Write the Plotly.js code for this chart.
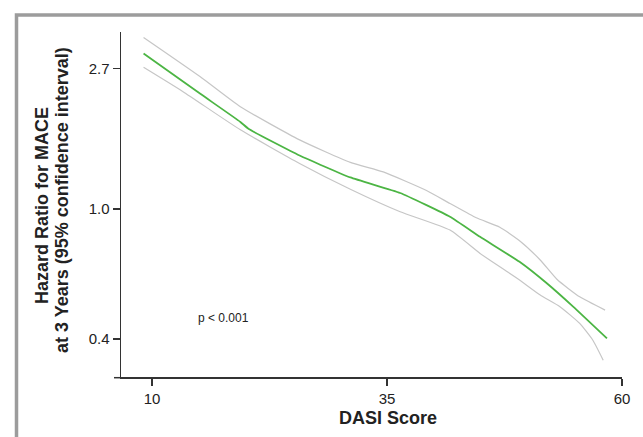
<!DOCTYPE html>
<html>
<head>
<meta charset="utf-8">
<script src="https://cdn.plot.ly/plotly-3.0.1.min.js"></script>
<style>html,body{margin:0;padding:0;background:#fff;}#chart{width:643px;height:437px;}</style>
</head>
<body>
<div id="chart"></div>
<script>
// DASI score vs hazard ratio for MACE at 3 years
const dasiMid = [9.1, 15.1, 19.4, 20.3, 25.7, 31.1, 36.4, 41.7, 44.9, 49.1, 52.0, 54.8, 58.4];
const hrMid   = [3.00, 2.26, 1.85, 1.76, 1.46, 1.25, 1.12, 0.947, 0.822, 0.689, 0.592, 0.502, 0.401];

const dasiUpper = [9.1, 15.1, 19.4, 25.7, 31.1, 34.6, 39.2, 41.7, 44.5, 47.0, 49.1, 51.3, 53.1, 55.5, 58.2];
const hrUpper   = [3.36, 2.55, 2.06, 1.63, 1.39, 1.30, 1.14, 1.04, 0.940, 0.880, 0.800, 0.698, 0.608, 0.538, 0.490];

const dasiLower = [9.1, 13.3, 19.4, 25.7, 31.1, 36.4, 41.7, 44.9, 47.0, 49.1, 51.3, 53.4, 55.5, 56.9, 58.0];
const hrLower   = [2.72, 2.29, 1.75, 1.38, 1.15, 0.981, 0.862, 0.731, 0.665, 0.606, 0.545, 0.502, 0.446, 0.396, 0.344];

const xTicks = [10, 35, 60];
const yTicks = [0.4, 1.0, 2.7];
const yTickText = ["0.4", "1.0", "2.7"];

const pText = "p < 0.001";
const xTitle = "DASI Score";
const yTitle1 = "Hazard Ratio for MACE";
const yTitle2 = "at 3 Years (95% confidence interval)";

const FONT = "Liberation Sans, Arial, Helvetica, sans-serif";
const W = 643, H = 437;
const L = 121, R = 21, T = 32, B = 60;
const pw = W - L - R, ph = H - T - B;
const px = p => (p - L) / pw;      // pixel x -> paper
const py = p => (H - B - p) / ph;  // pixel y -> paper

const traces = [
  {x: dasiUpper, y: hrUpper, mode: 'lines', line: {color: '#c6c6c6', width: 1.2, shape: 'spline', smoothing: 0.5}, hoverinfo: 'skip'},
  {x: dasiLower, y: hrLower, mode: 'lines', line: {color: '#c6c6c6', width: 1.2, shape: 'spline', smoothing: 0.5}, hoverinfo: 'skip'},
  {x: dasiMid, y: hrMid, mode: 'lines', line: {color: '#4cb544', width: 1.8, shape: 'spline', smoothing: 0.4}}
];

const layout = {
  width: W, height: H,
  margin: {l: L, r: R, t: T, b: B, pad: 0},
  paper_bgcolor: '#fff', plot_bgcolor: '#fff',
  showlegend: false,
  font: {family: FONT, color: '#222'},
  xaxis: {
    range: [6.7, 60], tickvals: xTicks, ticktext: xTicks.map(String),
    ticks: 'outside', ticklen: 7, tickwidth: 1.5, tickcolor: '#333',
    showline: true, linecolor: '#333', linewidth: 1.5,
    showgrid: false, zeroline: false,
    tickfont: {family: FONT, size: 15, color: '#222'}
  },
  yaxis: {
    type: 'log', range: [-0.515, 0.543],
    tickvals: yTicks, ticktext: yTickText,
    ticks: 'outside', ticklen: 7, tickwidth: 1.5, tickcolor: '#333',
    showline: true, linecolor: '#333', linewidth: 1.5,
    showgrid: false, zeroline: false,
    tickfont: {family: FONT, size: 15, color: '#222'}
  },
  shapes: [
    {type: 'rect', xref: 'paper', yref: 'paper', x0: px(16.5), x1: px(700), y0: py(500), y1: py(15),
     line: {color: '#9c9c9c', width: 3.5}, fillcolor: 'rgba(0,0,0,0)', layer: 'below'},
    {type: 'line', xref: 'paper', yref: 'paper', x0: px(114), x1: px(121), y0: py(377.7), y1: py(377.7),
     line: {color: '#333', width: 1.5}}
  ],
  annotations: [
    {text: '<b>' + xTitle + '</b>', xref: 'paper', yref: 'paper', x: px(388), y: py(418),
     xanchor: 'center', yanchor: 'middle', showarrow: false, font: {family: FONT, size: 18, color: '#222'}},
    {text: '<b>' + yTitle1 + '</b>', xref: 'paper', yref: 'paper', x: px(42), y: py(206),
     xanchor: 'center', yanchor: 'middle', textangle: -90, showarrow: false, font: {family: FONT, size: 18, color: '#222'}},
    {text: '<b>' + yTitle2 + '</b>', xref: 'paper', yref: 'paper', x: px(62), y: py(200),
     xanchor: 'center', yanchor: 'middle', textangle: -90, showarrow: false, font: {family: FONT, size: 18, color: '#222'}},
    {text: pText, xref: 'x', yref: 'y', x: 14.7, y: Math.log10(0.464),
     xanchor: 'left', yanchor: 'middle', showarrow: false, font: {family: FONT, size: 12, color: '#222'}}
  ]
};

Plotly.newPlot('chart', traces, layout, {staticPlot: true, displayModeBar: false});
</script>
</body>
</html>
